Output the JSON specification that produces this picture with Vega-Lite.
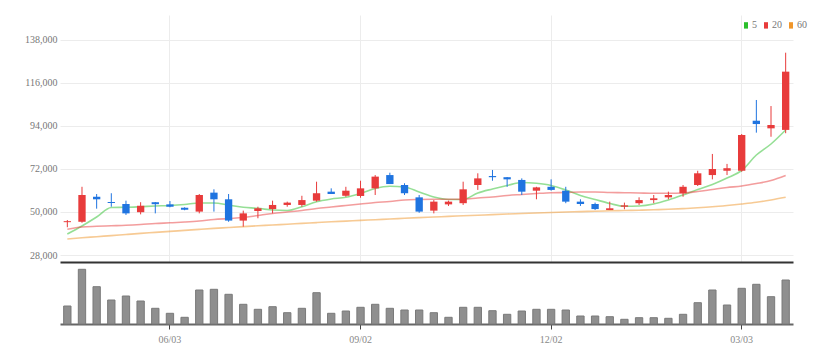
{
  "$schema": "https://vega.github.io/schema/vega-lite/v6.json",
  "padding": {"left": 20, "top": 15, "right": 5, "bottom": 5},
  "background": "white",
  "spacing": 0,
  "config": {"view": {"stroke": null}, "font": "Liberation Sans Narrow"},
  "datasets": {
    "w": [
      {"d": "2024-04-15", "o": 44800, "h": 45900, "l": 42200, "c": 45300, "v": 180000, "5": 38750, "20": 41150, "60": 36190},
      {"d": "2024-04-22", "o": 45000, "h": 62900, "l": 44500, "c": 58700, "v": 547000, "5": 42840, "20": 42330, "60": 36800},
      {"d": "2024-04-29", "o": 57800, "h": 59200, "l": 51700, "c": 56500, "v": 373000, "5": 47440, "20": 42680, "60": 37360},
      {"d": "2024-05-06", "o": 55100, "h": 59600, "l": 52700, "c": 54600, "v": 240000, "5": 52300, "20": 42940, "60": 37930},
      {"d": "2024-05-13", "o": 54100, "h": 55800, "l": 48500, "c": 49300, "v": 280000, "5": 52400, "20": 43200, "60": 38490},
      {"d": "2024-05-20", "o": 49900, "h": 55000, "l": 48800, "c": 53200, "v": 230000, "5": 52710, "20": 43610, "60": 39050},
      {"d": "2024-05-27", "o": 55000, "h": 55100, "l": 49300, "c": 54000, "v": 157000, "5": 53070, "20": 44120, "60": 39560},
      {"d": "2024-06-03", "o": 53900, "h": 55600, "l": 52400, "c": 52700, "v": 107000, "5": 53330, "20": 44470, "60": 40080},
      {"d": "2024-06-10", "o": 52200, "h": 52400, "l": 50900, "c": 51200, "v": 67000, "5": 53840, "20": 44880, "60": 40590},
      {"d": "2024-06-17", "o": 50200, "h": 59200, "l": 49300, "c": 58700, "v": 340000, "5": 54600, "20": 45400, "60": 41100},
      {"d": "2024-06-24", "o": 59900, "h": 61600, "l": 50200, "c": 56500, "v": 347000, "5": 54600, "20": 46160, "60": 41610},
      {"d": "2024-07-01", "o": 56500, "h": 59200, "l": 45000, "c": 45600, "v": 297000, "5": 53580, "20": 46670, "60": 42070},
      {"d": "2024-07-08", "o": 45600, "h": 50700, "l": 42500, "c": 49300, "v": 197000, "5": 52400, "20": 47190, "60": 42530},
      {"d": "2024-07-15", "o": 50500, "h": 52700, "l": 46800, "c": 51900, "v": 147000, "5": 51890, "20": 48210, "60": 42940},
      {"d": "2024-07-22", "o": 51500, "h": 55800, "l": 49300, "c": 53600, "v": 173000, "5": 51020, "20": 49230, "60": 43350},
      {"d": "2024-07-29", "o": 53600, "h": 55300, "l": 52700, "c": 54800, "v": 113000, "5": 50770, "20": 50000, "60": 43760},
      {"d": "2024-08-05", "o": 53600, "h": 58300, "l": 52700, "c": 56100, "v": 157000, "5": 52710, "20": 50770, "60": 44170},
      {"d": "2024-08-12", "o": 55800, "h": 65500, "l": 55300, "c": 59600, "v": 313000, "5": 55270, "20": 51790, "60": 44580},
      {"d": "2024-08-19", "o": 60400, "h": 62100, "l": 59200, "c": 59200, "v": 107000, "5": 56650, "20": 52560, "60": 44990},
      {"d": "2024-08-26", "o": 58300, "h": 62900, "l": 57800, "c": 60900, "v": 130000, "5": 57520, "20": 53330, "60": 45340},
      {"d": "2024-09-02", "o": 58200, "h": 66000, "l": 57300, "c": 62100, "v": 167000, "5": 59460, "20": 54090, "60": 45700},
      {"d": "2024-09-09", "o": 62100, "h": 68900, "l": 58700, "c": 68100, "v": 197000, "5": 62020, "20": 54860, "60": 46060},
      {"d": "2024-09-16", "o": 68900, "h": 70100, "l": 64300, "c": 64300, "v": 157000, "5": 63150, "20": 55370, "60": 46420},
      {"d": "2024-09-23", "o": 63800, "h": 64700, "l": 58700, "c": 59600, "v": 140000, "5": 62790, "20": 56140, "60": 46780},
      {"d": "2024-09-30", "o": 57500, "h": 58700, "l": 49600, "c": 50200, "v": 140000, "5": 60230, "20": 56400, "60": 47130},
      {"d": "2024-10-07", "o": 50700, "h": 56100, "l": 49300, "c": 55300, "v": 113000, "5": 57670, "20": 56500, "60": 47440},
      {"d": "2024-10-14", "o": 53900, "h": 55800, "l": 53100, "c": 55300, "v": 67000, "5": 56400, "20": 56500, "60": 47750},
      {"d": "2024-10-21", "o": 54500, "h": 65500, "l": 53600, "c": 61600, "v": 167000, "5": 56400, "20": 56500, "60": 48060},
      {"d": "2024-10-28", "o": 63800, "h": 69800, "l": 61300, "c": 67200, "v": 167000, "5": 59720, "20": 57160, "60": 48360},
      {"d": "2024-11-04", "o": 68400, "h": 71500, "l": 66000, "c": 67800, "v": 133000, "5": 61770, "20": 57670, "60": 48670},
      {"d": "2024-11-11", "o": 67800, "h": 67900, "l": 62900, "c": 66700, "v": 97000, "5": 63560, "20": 58440, "60": 48980},
      {"d": "2024-11-18", "o": 66400, "h": 67200, "l": 58700, "c": 60400, "v": 130000, "5": 65090, "20": 58950, "60": 49230},
      {"d": "2024-11-25", "o": 60900, "h": 62900, "l": 56500, "c": 62600, "v": 147000, "5": 64680, "20": 59460, "60": 49490},
      {"d": "2024-12-02", "o": 62900, "h": 66700, "l": 60900, "c": 61300, "v": 147000, "5": 63560, "20": 59870, "60": 49740},
      {"d": "2024-12-09", "o": 60900, "h": 62900, "l": 54500, "c": 55300, "v": 140000, "5": 61260, "20": 59980, "60": 50000},
      {"d": "2024-12-16", "o": 55300, "h": 56500, "l": 53100, "c": 54100, "v": 80000, "5": 58440, "20": 60230, "60": 50200},
      {"d": "2024-12-23", "o": 54100, "h": 54800, "l": 51000, "c": 51500, "v": 80000, "5": 56400, "20": 60230, "60": 50410},
      {"d": "2024-12-30", "o": 51000, "h": 55300, "l": 51000, "c": 51900, "v": 73000, "5": 54350, "20": 59980, "60": 50610},
      {"d": "2025-01-06", "o": 52700, "h": 54800, "l": 51400, "c": 53400, "v": 47000, "5": 52920, "20": 59870, "60": 50770},
      {"d": "2025-01-13", "o": 54500, "h": 57500, "l": 53600, "c": 56100, "v": 63000, "5": 53070, "20": 59720, "60": 50920},
      {"d": "2025-01-20", "o": 56100, "h": 58700, "l": 54500, "c": 57000, "v": 63000, "5": 54090, "20": 59570, "60": 51130},
      {"d": "2025-01-27", "o": 57500, "h": 60400, "l": 56500, "c": 58700, "v": 57000, "5": 56140, "20": 59570, "60": 51380},
      {"d": "2025-02-03", "o": 59600, "h": 63800, "l": 57800, "c": 62900, "v": 97000, "5": 58700, "20": 59720, "60": 51740},
      {"d": "2025-02-10", "o": 63800, "h": 71100, "l": 63300, "c": 69800, "v": 213000, "5": 61510, "20": 60490, "60": 52150},
      {"d": "2025-02-17", "o": 68900, "h": 79700, "l": 66700, "c": 72000, "v": 340000, "5": 64070, "20": 61510, "60": 52660},
      {"d": "2025-02-24", "o": 71100, "h": 74600, "l": 68900, "c": 72400, "v": 190000, "5": 67390, "20": 62530, "60": 53330},
      {"d": "2025-03-03", "o": 71100, "h": 89900, "l": 70600, "c": 89400, "v": 357000, "5": 71230, "20": 63300, "60": 54090},
      {"d": "2025-03-10", "o": 96700, "h": 107300, "l": 90600, "c": 95000, "v": 397000, "5": 79160, "20": 64580, "60": 54960},
      {"d": "2025-03-17", "o": 92800, "h": 104200, "l": 88500, "c": 94500, "v": 273000, "5": 84790, "20": 66120, "60": 56140},
      {"d": "2025-03-24", "o": 92000, "h": 131500, "l": 90300, "c": 121800, "v": 440000, "5": 91950, "20": 68670, "60": 57520}
    ]
  },
  "vconcat": [
    {
      "width": 733,
      "height": 247,
      "data": {"name": "w"},
      "encoding": {
        "x": {
          "field": "d", "type": "ordinal",
          "scale": {"paddingInner": 0, "paddingOuter": 0},
          "axis": {
            "values": ["2024-06-03", "2024-09-02", "2024-12-02", "2025-03-03"],
            "grid": true, "gridColor": "#ececec", "labels": false, "ticks": false,
            "domainColor": "#333333", "domainWidth": 2, "title": null,
            "bandPosition": 0.5, "minExtent": 0, "maxExtent": 0
          }
        }
      },
      "layer": [
        {
          "transform": [{"fold": ["5", "20", "60"], "as": ["ma", "val"]}],
          "mark": {"type": "line", "strokeWidth": 1.6, "opacity": 0.5, "interpolate": "monotone"},
          "encoding": {
            "y": {
              "field": "val", "type": "quantitative",
              "scale": {"domain": [24420, 150785], "nice": false, "zero": false},
              "axis": {
                "values": [28000, 50000, 72000, 94000, 116000, 138000],
                "format": ",.0f", "title": null, "ticks": false, "domain": false,
                "gridColor": "#ececec", "labelColor": "#777777", "labelFontSize": 10,
                "labelFont": "Liberation Sans Narrow", "labelPadding": 3,
                "minExtent": 40, "maxExtent": 40
              }
            },
            "color": {
              "field": "ma", "type": "nominal",
              "scale": {"domain": ["5", "20", "60"], "range": ["#2bbf2b", "#e83b3b", "#f0962a"]},
              "legend": {
                "title": null, "orient": "none", "legendX": 681, "legendY": 5,
                "direction": "horizontal", "symbolType": "M0,-1.6L0,1.6",
                "symbolSize": 16, "symbolStrokeWidth": 4, "symbolOpacity": 1,
                "labelFontSize": 10, "labelColor": "#777777", "labelFont": "Liberation Sans Narrow",
                "labelOffset": 1, "columnPadding": 1, "padding": 0
              }
            }
          }
        },
        {
          "mark": {"type": "rule", "strokeWidth": 1},
          "encoding": {
            "y": {"field": "l", "type": "quantitative"},
            "y2": {"field": "h"},
            "color": {"condition": {"test": "datum.c >= datum.o", "value": "#e83b3b"}, "value": "#1f74e0"}
          }
        },
        {
          "mark": {"type": "bar", "width": {"band": 0.5}},
          "encoding": {
            "y": {"field": "o", "type": "quantitative"},
            "y2": {"field": "c"},
            "color": {"condition": {"test": "datum.c >= datum.o", "value": "#e83b3b"}, "value": "#1f74e0"}
          }
        }
      ]
    },
    {
      "width": 733,
      "height": 62,
      "data": {"name": "w"},
      "mark": {"type": "bar", "width": {"band": 0.5}, "color": "#8f8f8f", "stroke": "#7a7a7a", "strokeWidth": 1},
      "encoding": {
        "x": {
          "field": "d", "type": "ordinal",
          "scale": {"paddingInner": 0, "paddingOuter": 0},
          "axis": {
            "values": ["2024-06-03", "2024-09-02", "2024-12-02", "2025-03-03"],
            "labelExpr": "slice(datum.value, 5, 7) + '/' + slice(datum.value, 8, 10)",
            "labelAngle": 0, "labelColor": "#888888", "labelFontSize": 10,
            "labelFont": "Liberation Sans Narrow", "labelPadding": 5,
            "tickColor": "#444444", "tickSize": 5, "domainColor": "#666666", "domainWidth": 2,
            "grid": false, "title": null, "bandPosition": 0.5
          }
        },
        "y": {
          "field": "v", "type": "quantitative",
          "scale": {"domain": [0, 620000], "nice": false},
          "axis": null
        }
      }
    }
  ]
}
